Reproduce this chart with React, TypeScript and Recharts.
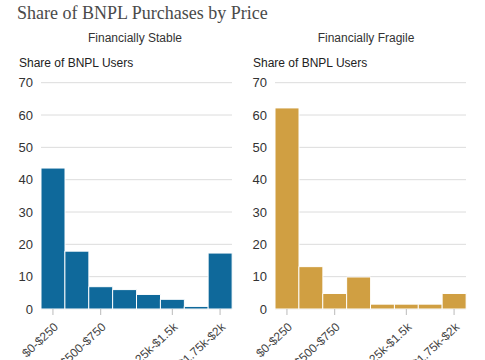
import { Bar, BarChart, CartesianGrid, XAxis, YAxis } from "recharts";

const categories = [
  "$0-$250",
  "$250-$500",
  "$500-$750",
  "$750-$1k",
  "$1k-$1.25k",
  "$1.25k-$1.5k",
  "$1.5k-$1.75k",
  "$1.75k-$2k",
];
const stableValues = [43.6, 17.9, 6.9, 6.0, 4.5, 3.0, 0.8, 17.3];
const fragileValues = [62.2, 13.1, 4.8, 9.9, 1.5, 1.5, 1.5, 4.8];
const labeledTicks = ["$0-$250", "$500-$750", "$1.25k-$1.5k", "$1.75k-$2k"];
const yTicks = [0, 10, 20, 30, 40, 50, 60, 70];

const STABLE_COLOR = "#0f699b";
const FRAGILE_COLOR = "#d09f42";
const SANS = "'Liberation Sans', Arial, sans-serif";

const PriceTick = ({ x, y, payload }: any) => (
  <text
    x={x + 6}
    y={y + 11}
    transform={`rotate(-43, ${x + 6}, ${y + 11})`}
    textAnchor="end"
    fontSize={12}
    fill="#444"
    fontFamily={SANS}
  >
    {payload.value}
  </text>
);

interface PanelProps {
  values: number[];
  color: string;
  width: number;
  marginLeft: number;
  marginRight: number;
}

const Panel = ({ values, color, width, marginLeft, marginRight }: PanelProps) => {
  const data = categories.map((c, i) => ({ name: c, value: values[i] }));
  return (
    <BarChart
      width={width}
      height={360}
      data={data}
      barCategoryGap={0}
      margin={{ top: 82.7, right: marginRight, bottom: 0, left: marginLeft }}
    >
      <CartesianGrid vertical={false} stroke="#dcdcdc" strokeWidth={1} />
      <XAxis
        dataKey="name"
        ticks={labeledTicks}
        interval={0}
        tick={<PriceTick />}
        tickLine={{ stroke: "#bbb" }}
        tickSize={6}
        axisLine={false}
        height={51}
      />
      <YAxis
        domain={[0, 70]}
        ticks={yTicks}
        width={30}
        axisLine={false}
        tickLine={false}
        tick={{ fontSize: 13, fill: "#333", fontFamily: SANS }}
      />
      <Bar
        dataKey="value"
        fill={color}
        stroke="#fff"
        strokeWidth={1}
        isAnimationActive={false}
      />
    </BarChart>
  );
};

export default function App() {
  return (
    <div
      style={{
        position: "absolute",
        left: 0,
        top: 0,
        width: 485,
        height: 360,
        background: "#fff",
        overflow: "hidden",
      }}
    >
      <div style={{ position: "absolute", left: 0, top: 0 }}>
        <Panel
          values={stableValues}
          color={STABLE_COLOR}
          width={240}
          marginLeft={11}
          marginRight={8}
        />
      </div>
      <div style={{ position: "absolute", left: 240, top: 0 }}>
        <Panel
          values={fragileValues}
          color={FRAGILE_COLOR}
          width={245}
          marginLeft={5}
          marginRight={19}
        />
      </div>
      <div
        style={{
          position: "absolute",
          left: 17,
          top: 3,
          fontFamily: "'Liberation Serif', serif",
          fontSize: 18,
          color: "#4a4a4a",
          whiteSpace: "nowrap",
        }}
      >
        Share of BNPL Purchases by Price
      </div>
      {[
        { text: "Financially Stable", cx: 135 },
        { text: "Financially Fragile", cx: 366 },
      ].map((s) => (
        <div
          key={s.text}
          style={{
            position: "absolute",
            left: s.cx - 80,
            width: 160,
            top: 31,
            textAlign: "center",
            fontFamily: SANS,
            fontSize: 12,
            color: "#333",
          }}
        >
          {s.text}
        </div>
      ))}
      {[19, 253].map((x) => (
        <div
          key={x}
          style={{
            position: "absolute",
            left: x,
            top: 56,
            fontFamily: SANS,
            fontSize: 12,
            color: "#222",
            whiteSpace: "nowrap",
          }}
        >
          Share of BNPL Users
        </div>
      ))}
    </div>
  );
}
